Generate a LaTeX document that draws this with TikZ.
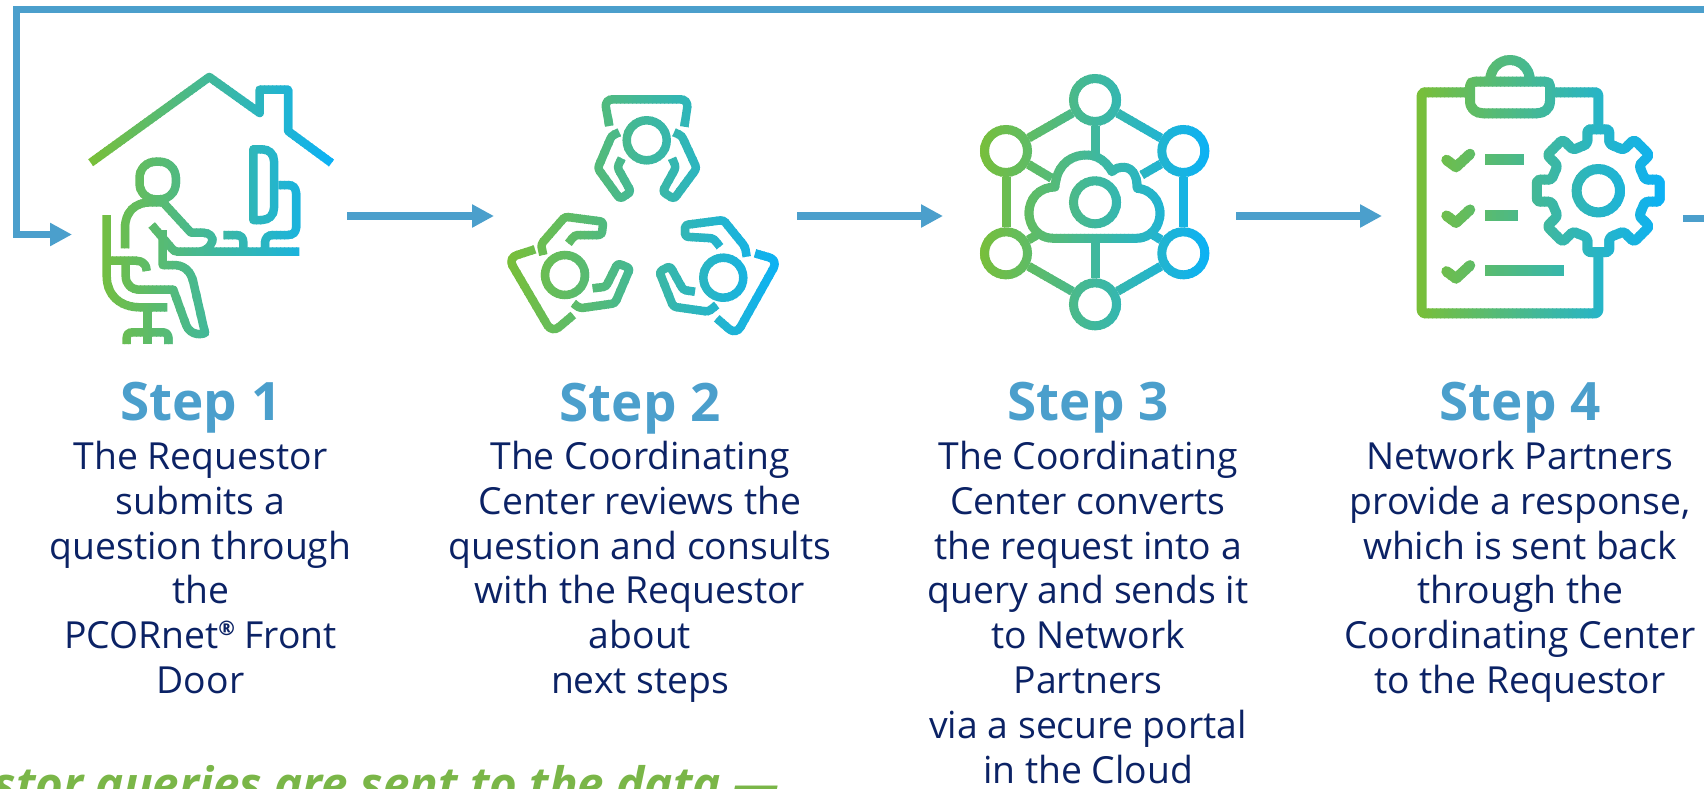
\documentclass[tikz,border=0pt]{standalone}
\usepackage{fontspec}
\setmainfont{Open Sans}
\usetikzlibrary{arrows.meta}
\definecolor{gradA}{HTML}{7ABF36}
\definecolor{gradB}{HTML}{40B89C}
\definecolor{gradC}{HTML}{0AB1F8}
\definecolor{flowblue}{HTML}{4B9FCC}
\definecolor{navy}{HTML}{0B2265}
\definecolor{taggreen}{HTML}{7AB648}
\colorlet{bandcol}{gradA}
\tikzset{
  px/.style={x=1pt,y=-1pt},
  ink/.style={draw=bandcol,line width=#1,line join=round,line cap=butt},
  ink/.default=8.5,
  netnode/.style={circle,draw=bandcol,line width=9,minimum size=43,inner sep=0,outer sep=4.5},
  checkmark/.style={ink=10.5,line cap=round},
  flow/.style={draw=flowblue,line width=7.5,line join=miter},
  flowtip/.style={flow,-{Triangle[length=22pt,width=22pt]}},
  steptitle/.style={text=flowblue,font=\fontsize{53}{56}\selectfont\bfseries,inner sep=0,anchor=base},
  stepbody/.style={text=navy,font=\fontsize{37.3}{44.8}\selectfont,align=center,inner sep=0,anchor=north},
}
\newcommand{\firstline}{\rule{0pt}{27pt}}
% draws #5 in vertical bands, colour running green - teal - blue from x=#1 to x=#2
\newcommand{\gradbands}[5]{%
  \foreach \bx in {#1,\the\numexpr#1+4\relax,...,#2}{%
    \pgfmathsetmacro{\tt}{min(1,max(0,(\bx+2-#1)/(#2-#1)))}%
    \pgfmathsetmacro{\pa}{min(100,200*\tt)}%
    \pgfmathsetmacro{\pb}{max(0,200*\tt-100)}%
    \colorlet{bandcol}{gradC!\pb!gradB}%
    \ifdim\tt pt<0.5pt \colorlet{bandcol}{gradB!\pa!gradA}\fi
    \begin{scope}
      \clip (\bx,#3) rectangle (\bx+5,#4);
      #5
    \end{scope}
  }%
}
\newcommand{\iconhome}{%
  \draw[ink] (90.7,162.7) -- (209.3,77) -- (259.7,113) -- (259.7,89.7) -- (288,89.7) -- (288,131) -- (331.5,163);
  \draw[ink,rounded corners=16] (139.5,161.7) rectangle (175.8,199.3);
  \draw[ink] (125,248.3) -- (125,228) .. controls (125,212) and (135,202.5) .. (150,202.3) -- (163,202.3) -- (191,232.7) -- (203.3,232.7) .. controls (210,232.7) and (214,238) .. (212,242) .. controls (210,247) and (207,250) .. (200,251.7);
  \draw[ink] (151.7,225) -- (171.7,248.3) .. controls (173,250.5) and (175,251.7) .. (178,251.7) -- (299.3,251.7);
  \draw[ink] (223.3,235) -- (236,235) .. controls (241,235) and (243.3,238) .. (243.3,242) -- (243.3,250);
  \draw[ink] (265,250) -- (265,243) .. controls (265,238) and (268,235) .. (273,235) -- (288,235) .. controls (293,235) and (296,232) .. (296,228) -- (296,193) .. controls (296,188) and (293,185) .. (288,185) -- (278.3,185);
  \draw[ink] (253.3,149.3) -- (262,149.3) .. controls (269,149.3) and (274,154) .. (274,161) -- (274,208) .. controls (274,215) and (269,220) .. (262,220) -- (253.3,220) -- cycle;
  \draw[ink] (162.7,230) -- (162.7,265) -- (173.3,265) .. controls (185,265) and (191,272) .. (193.3,282) -- (205,333) .. controls (197,336) and (188,333) .. (185,322) -- (173.3,289.7) -- (140,289.7) .. controls (131,289.7) and (125.7,284) .. (125.7,276) -- (125.7,262);
  \draw[ink] (106.7,215) -- (106.7,276) .. controls (106.7,295) and (120,307.3) .. (140,307.3) -- (167.3,307.3);
  \draw[ink] (106.7,260.7) -- (136,260.7) .. controls (143,260.7) and (146.7,265) .. (146.7,271);
  \draw[ink] (147.3,307.3) -- (147.3,344);
  \draw[ink] (126.7,344) -- (126.7,338) .. controls (126.7,334) and (129,332.3) .. (133,332.3) -- (162,332.3) .. controls (166,332.3) and (168.3,334) .. (168.3,338) -- (168.3,344);
}
\newcommand{\iconteam}{%
  \draw[ink=8.5] (646.7,140.3) circle[radius=20];
  \draw[ink=8.5,rounded corners=8] (609.3,126) -- (604.5,99.3) -- (688.5,99.3) -- (684.3,126.7);
  \draw[ink=8.5,rounded corners=3] (619.3,132.3) -- (611.7,135.7) -- (597.7,168.3) -- (620,199) -- (631,191.7) -- (617.3,167.3) -- (621.7,158.3);
  \draw[ink=8.5,rounded corners=3] (674,132.3) -- (681.7,135.7) -- (696.7,168.3) -- (674,199) -- (662.5,191.7) -- (676,167.3) -- (672,158.3);
  \draw[ink=8.5] (565,275) circle[radius=20];
  \draw[ink=8.5,rounded corners=9] (535,249.3) -- (508,258) -- (552,333) -- (573.3,315);
  \draw[ink=8.5,rounded corners=3] (543.3,255) -- (541,244.3) -- (565,216.7) -- (603.3,221.7) -- (601.7,235) -- (575,235) -- (568.3,243.3);
  \draw[ink=8.5,rounded corners=3] (573.3,303.3) -- (580,308.3) -- (615,303.3) -- (630,268.3) -- (617.7,263.3) -- (606,286.7) -- (592.7,288.3);
  \draw[ink=8.5] (723.3,277.7) circle[radius=20];
  \draw[ink=8.5,rounded corners=9] (755,253.3) -- (778,260) -- (736,335) -- (716.7,318.3);
  \draw[ink=8.5,rounded corners=3] (720,246.7) -- (713.3,238.3) -- (685,236.7) -- (685,225) -- (723.3,220) -- (745,246.7) -- (746.7,256.7);
  \draw[ink=8.5,rounded corners=3] (716.7,305) -- (708.3,311.7) -- (673.3,306.7) -- (659.3,271.7) -- (670,266) -- (683.3,290) -- (695,291.7);
}
\newcommand{\iconnet}{%
  \node[netnode] (nt) at (1095,100) {};
  \node[netnode] (nul) at (1006,151) {};
  \node[netnode] (nll) at (1006,253.3) {};
  \node[netnode] (nb) at (1095,304.3) {};
  \node[netnode] (nur) at (1183.3,151) {};
  \node[netnode] (nlr) at (1183.3,253.3) {};
  \node[netnode] (nc) at (1095,202.3) {};
  \coordinate (ctop) at (1095,155);
  \coordinate (cbot) at (1095,238.3);
  \coordinate (cul) at (1051.7,178.3);
  \coordinate (cll) at (1040,233);
  \coordinate (cur) at (1141.7,175);
  \coordinate (clr) at (1150,233);
  \draw[ink=9] (nt) -- (nul);
  \draw[ink=9] (nt) -- (nur);
  \draw[ink=9] (nb) -- (nll);
  \draw[ink=9] (nb) -- (nlr);
  \draw[ink=9] (nul) -- (nll);
  \draw[ink=9] (nur) -- (nlr);
  \draw[ink=9] (nt) -- (ctop);
  \draw[ink=9] (nb) -- (cbot);
  \draw[ink=9] (nul) -- (cul);
  \draw[ink=9] (nll) -- (cll);
  \draw[ink=9] (nur) -- (cur);
  \draw[ink=9] (nlr) -- (clr);
  \draw[ink=9] (1053,238.3) .. controls (1039,238.3) and (1029,227) .. (1029,213) .. controls (1029,198) and (1040,187) .. (1055,187) .. controls (1056,168) and (1068,155) .. (1086.7,155) .. controls (1097,155) and (1106,161) .. (1112,171.7) .. controls (1115,168.5) and (1119,167.3) .. (1123.3,167.3) .. controls (1131,167.3) and (1137,173.5) .. (1137.3,188.3) .. controls (1150,189) and (1160,200) .. (1160,213.3) .. controls (1160,227) and (1150,238.3) .. (1136.7,238.3) -- cycle;
}
\newcommand{\iconlist}{%
  \draw[ink=10,rounded corners=3] (1465,92.3) -- (1421.7,92.3) -- (1421.7,313.3) -- (1598.3,313.3) -- (1598.3,256);
  \draw[ink=10,rounded corners=3] (1555,92.3) -- (1598.3,92.3) -- (1598.3,126);
  \draw[ink=10] (1475,81.7) -- (1545,81.7) .. controls (1548,81.7) and (1550,83) .. (1550,86) -- (1550,101) .. controls (1550,109) and (1544,113.3) .. (1537,113.3) -- (1483,113.3) .. controls (1476,113.3) and (1470,109) .. (1470,101) -- (1470,86) .. controls (1470,83) and (1472,81.7) .. (1475,81.7) -- cycle;
  \draw[ink=10] (1490,81) .. controls (1490,69) and (1499,60) .. (1510,60) .. controls (1521,60) and (1530,69) .. (1530,81);
  \draw[checkmark] (1446.5,160) -- (1456,167) -- (1470,154);
  \draw[checkmark] (1446.5,215.7) -- (1456,222.7) -- (1470,209.7);
  \draw[checkmark] (1446.5,271.4) -- (1456,278.4) -- (1470,265.4);
  \draw[ink=11] (1485,159.3) -- (1524.3,159.3);
  \draw[ink=11] (1485,215) -- (1517.7,215);
  \draw[ink=11] (1485,270.7) -- (1564,270.7);
  \draw[ink=10] (1598.3,190.7) circle[radius=21.7];
  \draw[ink=10,rounded corners=3]
    ([shift={(1598.3,190.7)}]-13.25:48)
    -- ([shift={(1598.3,190.7)}]-10.16:62.4) -- ([shift={(1598.3,190.7)}]10.16:62.4) -- ([shift={(1598.3,190.7)}]13.25:48)
    -- ([shift={(1598.3,190.7)}]31.75:48) -- ([shift={(1598.3,190.7)}]34.84:62.4) -- ([shift={(1598.3,190.7)}]55.16:62.4) -- ([shift={(1598.3,190.7)}]58.25:48)
    -- ([shift={(1598.3,190.7)}]76.75:48) -- ([shift={(1598.3,190.7)}]79.84:62.4) -- ([shift={(1598.3,190.7)}]100.16:62.4) -- ([shift={(1598.3,190.7)}]103.25:48)
    -- ([shift={(1598.3,190.7)}]121.75:48) -- ([shift={(1598.3,190.7)}]124.84:62.4) -- ([shift={(1598.3,190.7)}]145.16:62.4) -- ([shift={(1598.3,190.7)}]148.25:48)
    -- ([shift={(1598.3,190.7)}]166.75:48) -- ([shift={(1598.3,190.7)}]169.84:62.4) -- ([shift={(1598.3,190.7)}]190.16:62.4) -- ([shift={(1598.3,190.7)}]193.25:48)
    -- ([shift={(1598.3,190.7)}]211.75:48) -- ([shift={(1598.3,190.7)}]214.84:62.4) -- ([shift={(1598.3,190.7)}]235.16:62.4) -- ([shift={(1598.3,190.7)}]238.25:48)
    -- ([shift={(1598.3,190.7)}]256.75:48) -- ([shift={(1598.3,190.7)}]259.84:62.4) -- ([shift={(1598.3,190.7)}]280.16:62.4) -- ([shift={(1598.3,190.7)}]283.25:48)
    -- ([shift={(1598.3,190.7)}]301.75:48) -- ([shift={(1598.3,190.7)}]304.84:62.4) -- ([shift={(1598.3,190.7)}]325.16:62.4) -- ([shift={(1598.3,190.7)}]328.25:48)
    -- cycle;
}
\begin{document}
\begin{tikzpicture}[px]
  \useasboundingbox (0,0) rectangle (1704,788);
  \clip (0,0) rectangle (1704,788);

  \gradbands{88}{336}{50}{344}{\iconhome}
  \gradbands{504}{784}{80}{345}{\iconteam}
  \gradbands{976}{1212}{65}{340}{\iconnet}
  \gradbands{1416}{1668}{50}{325}{\iconlist}

  \coordinate (loopright) at (1704,9.3);
  \coordinate (loopcornerA) at (16.5,9.3);
  \coordinate (loopcornerB) at (16.5,234.5);
  \coordinate (loopend) at (72,234.5);
  \coordinate (oneout) at (347,216);
  \coordinate (twoin) at (494,216);
  \coordinate (twoout) at (797,216);
  \coordinate (threein) at (943,216);
  \coordinate (threeout) at (1236,216);
  \coordinate (fourin) at (1382,216);
  \coordinate (fourout) at (1683,218.5);
  \coordinate (fouredge) at (1704,218.5);

  \draw[flowtip] (loopright) -- (loopcornerA) -- (loopcornerB) -- (loopend);
  \draw[flowtip] (oneout) -- (twoin);
  \draw[flowtip] (twoout) -- (threein);
  \draw[flowtip] (threeout) -- (fourin);
  \draw[flow] (fourout) -- (fouredge);

  \node[steptitle] (titleone) at (201,420) {Step 1};
  \node[steptitle] (titletwo) at (640,421.7) {Step 2};
  \node[steptitle] (titlethree) at (1088,420) {Step 3};
  \node[steptitle] (titlefour) at (1520,420) {Step 4};

  \node[stepbody] (bodyone) at (200.5,441) {\firstline The Requestor\\submits a\\question through\\the\\PCORnet\raisebox{.36em}{\fontsize{20}{20}\selectfont\bfseries ®} Front\\Door};
  \node[stepbody] (bodytwo) at (640,441) {\firstline The Coordinating\\Center reviews the\\question and consults\\with the Requestor\\about\\next steps};
  \node[stepbody] (bodythree) at (1088,441) {\firstline The Coordinating\\Center converts\\the request into a\\query and sends it\\to Network\\Partners\\via a secure portal\\in the Cloud};
  \node[stepbody] (bodyfour) at (1520,441) {\firstline Network Partners\\provide a response,\\which is sent back\\through the\\Coordinating Center\\to the Requestor};

  \node[anchor=base east,inner sep=0,text=taggreen,font=\fontsize{47.5}{50}\selectfont\bfseries\itshape] (tagline) at (779,801) {stor queries are sent to the data —};
\end{tikzpicture}
\end{document}
